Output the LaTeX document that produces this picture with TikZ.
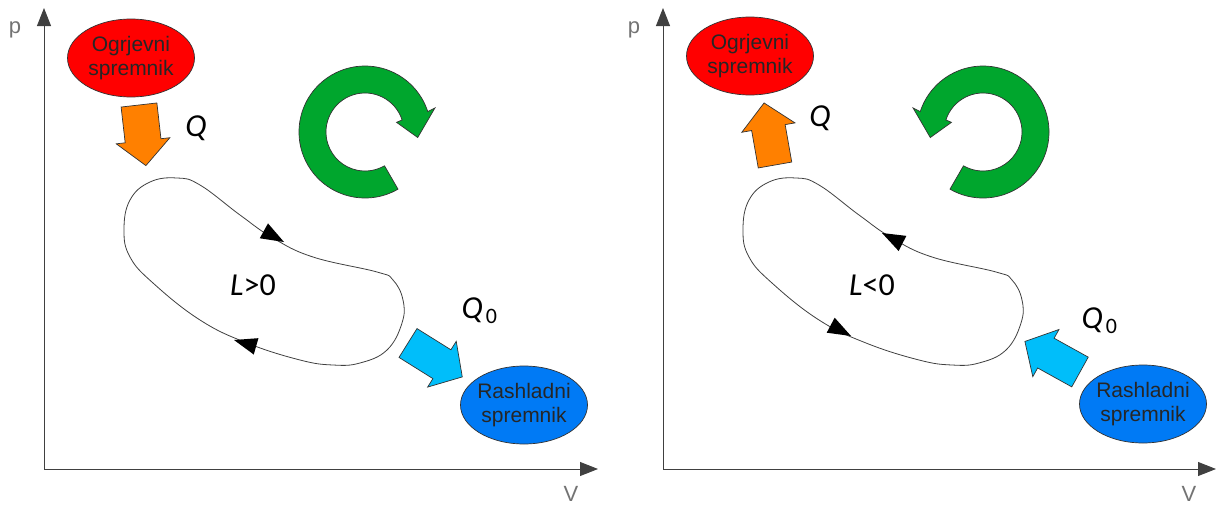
\documentclass[tikz,border=0pt]{standalone}
\usepackage{fontspec}
\setmainfont{Liberation Sans}
\newfontfamily\carl{Carlito}
\usetikzlibrary{shapes.geometric,arrows.meta}
\definecolor{hotred}{RGB}{255,0,0}
\definecolor{heatorange}{RGB}{255,128,0}
\definecolor{cyclegreen}{RGB}{0,166,45}
\definecolor{coldblue}{RGB}{0,122,245}
\definecolor{flowblue}{RGB}{0,190,250}
\newcommand\blkarrow[7]{\draw[#7,shift={#1},rotate=#2] (0,-#4) -- (#3-#6,-#4) -- (#3-#6,-#5) -- (#3,0) -- (#3-#6,#5) -- (#3-#6,#4) -- (0,#4) -- cycle;}
\newcommand\looptip[3]{\fill[black,shift={(#1,#2)},rotate=#3] (0,0) -- (-23,8.5) -- (-23,-8.5) -- cycle;}
\newcommand\ringpath{(-60:66) arc[start angle=-60,end angle=-342,radius=66] -- (19:74) -- (-6:53) -- (17:33) -- (18:39) arc[start angle=18,end angle=300,radius=39] -- cycle}
\newcommand\looppath{plot[smooth cycle, tension=0.7] coordinates {(124,-230) (130,-200) (150,-182) (177,-178) (200,-185) (240,-215) (273,-238) (313,-257) (377,-272) (393,-280) (403,-300) (402,-323) (387,-350) (360,-363) (333,-365) (300,-360) (247,-343) (200,-320) (153,-283) (130,-257)}}
\begin{document}
\begin{tikzpicture}[x=1pt,y=1pt,
  axis/.style={draw=black!75,line width=0.9pt,-{Triangle[length=18pt,width=14pt]}},
  tank/.style={ellipse,draw=black!80,line width=0.7pt,minimum width=127pt,minimum height=78pt,inner sep=-14pt,align=center,font=\fontsize{21}{24}\selectfont,text=black!85},
  shapeline/.style={draw=black!80,line width=0.7pt},
  axlabel/.style={text=black!55,font=\fontsize{22}{22}\selectfont},
  biglabel/.style={font=\carl\fontsize{32}{32}\selectfont}]
\useasboundingbox (0,0) rectangle (1219,-506);
% ---------- left panel ----------
\coordinate (o1) at (44,-469);
\coordinate (py1) at (44,-8);
\coordinate (vx1) at (598,-469);
\draw[axis] (o1) -- (py1);
\draw[axis] (o1) -- (vx1);
\node[axlabel] (p1) at (15,-30) {p};
\node[axlabel] (v1) at (571,-494) {V};
\node[tank,fill=hotred] (hot1) at (131,-58) {Ogrjevni\\spremnik};
\node[tank,fill=coldblue] (cold1) at (524,-405) {Rashladni\\spremnik};
\blkarrow{(139,-105)}{-83.5}{61}{18}{27}{25}{shapeline,fill=heatorange}
\blkarrow{(408,-343)}{-32}{64}{17}{27}{24}{shapeline,fill=flowblue}
\begin{scope}[shift={(365,-132)}]
\draw[shapeline,fill=cyclegreen] \ringpath;
\end{scope}
\draw[black!75,line width=0.8pt] \looppath;
\looptip{284}{-242}{-29}
\looptip{234}{-340}{164}
\node[biglabel] (q1) at (196,-128) {\itshape Q};
\node[biglabel,anchor=base west] (q01) at (458,-318) {\itshape Q\kern3pt\raisebox{-5pt}{\fontsize{22}{22}\selectfont\upshape 0}};
\node[biglabel] (l1) at (253,-285) {\itshape L\upshape >0};
% ---------- right panel ----------
\coordinate (o2) at (663,-469);
\coordinate (py2) at (663,-8);
\coordinate (vx2) at (1216,-469);
\draw[axis] (o2) -- (py2);
\draw[axis] (o2) -- (vx2);
\node[axlabel] (p2) at (634,-30) {p};
\node[axlabel] (v2) at (1189,-494) {V};
\node[tank,fill=hotred] (hot2) at (750,-56) {Ogrjevni\\spremnik};
\node[tank,fill=coldblue] (cold2) at (1143,-404) {Rashladni\\spremnik};
\blkarrow{(775,-165)}{100}{63}{17}{27}{25}{shapeline,fill=heatorange}
\blkarrow{(1080,-372)}{151}{63}{17}{27}{24}{shapeline,fill=flowblue}
\begin{scope}[shift={(983,-132)},xscale=-1]
\draw[shapeline,fill=cyclegreen] \ringpath;
\end{scope}
\begin{scope}[shift={(619,0)}]
\draw[black!75,line width=0.8pt] \looppath;
\end{scope}
\looptip{882}{-233}{153}
\looptip{851}{-336}{-28}
\node[biglabel] (q2) at (820,-118) {\itshape Q};
\node[biglabel,anchor=base west] (q02) at (1078,-328) {\itshape Q\kern3pt\raisebox{-5pt}{\fontsize{22}{22}\selectfont\upshape 0}};
\node[biglabel] (l2) at (872,-285) {\itshape L\upshape <0};
\end{tikzpicture}
\end{document}
